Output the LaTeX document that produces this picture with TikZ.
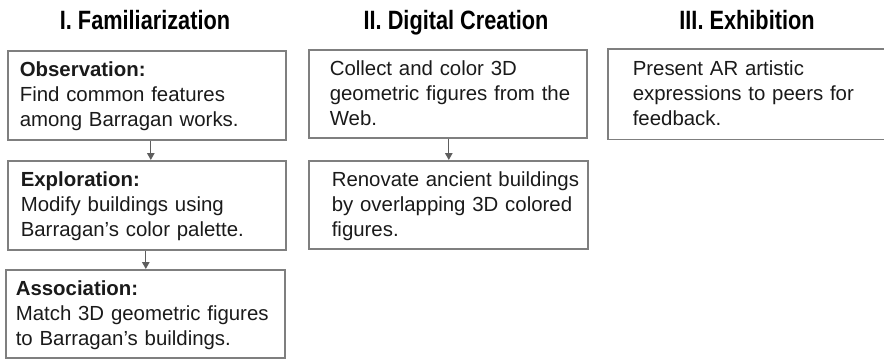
\documentclass[tikz,border=0pt]{standalone}
\usepackage{fontspec}
\setmainfont{Liberation Sans}
\newfontfamily\titlefont[FakeStretch=0.82]{Liberation Sans}
\usetikzlibrary{arrows.meta}

\definecolor{boxgray}{HTML}{7F7F7F}
\definecolor{arrowgray}{HTML}{5E5E5E}
\definecolor{bodyink}{HTML}{1A1A1A}

\newcommand{\bodyfont}{\fontsize{20.4pt}{25pt}\selectfont}
\newcommand{\headfont}{\titlefont\bfseries\fontsize{26.5pt}{30pt}\selectfont}

\tikzset{
  phase/.style={font=\headfont, text=black, anchor=base, inner sep=0pt},
  card/.style={draw=boxgray, line width=1.6pt, anchor=north west,
    align=left, inner xsep=0pt, inner ysep=0pt,
    text height=15pt, text depth=52pt,
    font=\bodyfont, text=bodyink},
  cardline/.style={draw=boxgray, line width=1.6pt},
  flow/.style={draw=arrowgray, line width=1.1pt,
    -{Triangle[width=7.5pt,length=7pt]}},
}

\begin{document}
\begin{tikzpicture}[x=1pt, y=-1pt]
  \useasboundingbox (0,0) rectangle (884,359);

  % phase headings
  \node[phase] (h1) at (145,29) {I. Familiarization};
  \node[phase] (h2) at (456,29) {II. Digital Creation};
  \node[phase] (h3) at (747,29) {III. Exhibition};

  % phase I
  \node[card, minimum width=278pt, minimum height=89pt, text width=278pt,
        execute at begin node={\leftskip=12pt}] (obs) at (7,50)
    {\textbf{Observation:}\\Find common features\\among Barragan works.};
  \node[card, minimum width=278pt, minimum height=89pt, text width=278pt,
        execute at begin node={\leftskip=13pt}] (expl) at (7,160)
    {\textbf{Exploration:}\\Modify buildings using\\Barragan’s color palette.};
  \node[card, minimum width=279pt, minimum height=88pt, text width=279pt,
        execute at begin node={\leftskip=10pt}] (assoc) at (5,269)
    {\textbf{Association:}\\Match 3D geometric figures\\to Barragan’s buildings.};

  % phase II
  \node[card, minimum width=278pt, minimum height=88pt, text width=278pt,
        execute at begin node={\leftskip=21pt}] (collect) at (308,49)
    {Collect and color 3D\\geometric figures from the\\Web.};
  \node[card, minimum width=279pt, minimum height=88pt, text width=279pt,
        execute at begin node={\leftskip=23pt}] (renov) at (308,160)
    {Renovate ancient buildings\\by overlapping 3D colored\\figures.};

  % phase III: the card is cut off by the right margin, so its frame is open there
  \node[card, draw=none, minimum width=290pt, minimum height=89pt, text width=290pt,
        execute at begin node={\leftskip=24pt}] (present) at (608,49)
    {Present AR artistic\\expressions to peers for\\feedback.};
  \draw[cardline] (present.north east) -- (present.north west)
    -- (present.south west) -- (present.south east);

  % connectors
  \draw[flow] ([xshift=4pt]obs.south) -- ([xshift=4pt]expl.north);
  \draw[flow] ([xshift=-1pt]expl.south) -- ([xshift=-1pt]expl.south |- assoc.north);
  \draw[flow] ([xshift=1pt]collect.south) -- ([xshift=1pt]collect.south |- renov.north);
\end{tikzpicture}
\end{document}
